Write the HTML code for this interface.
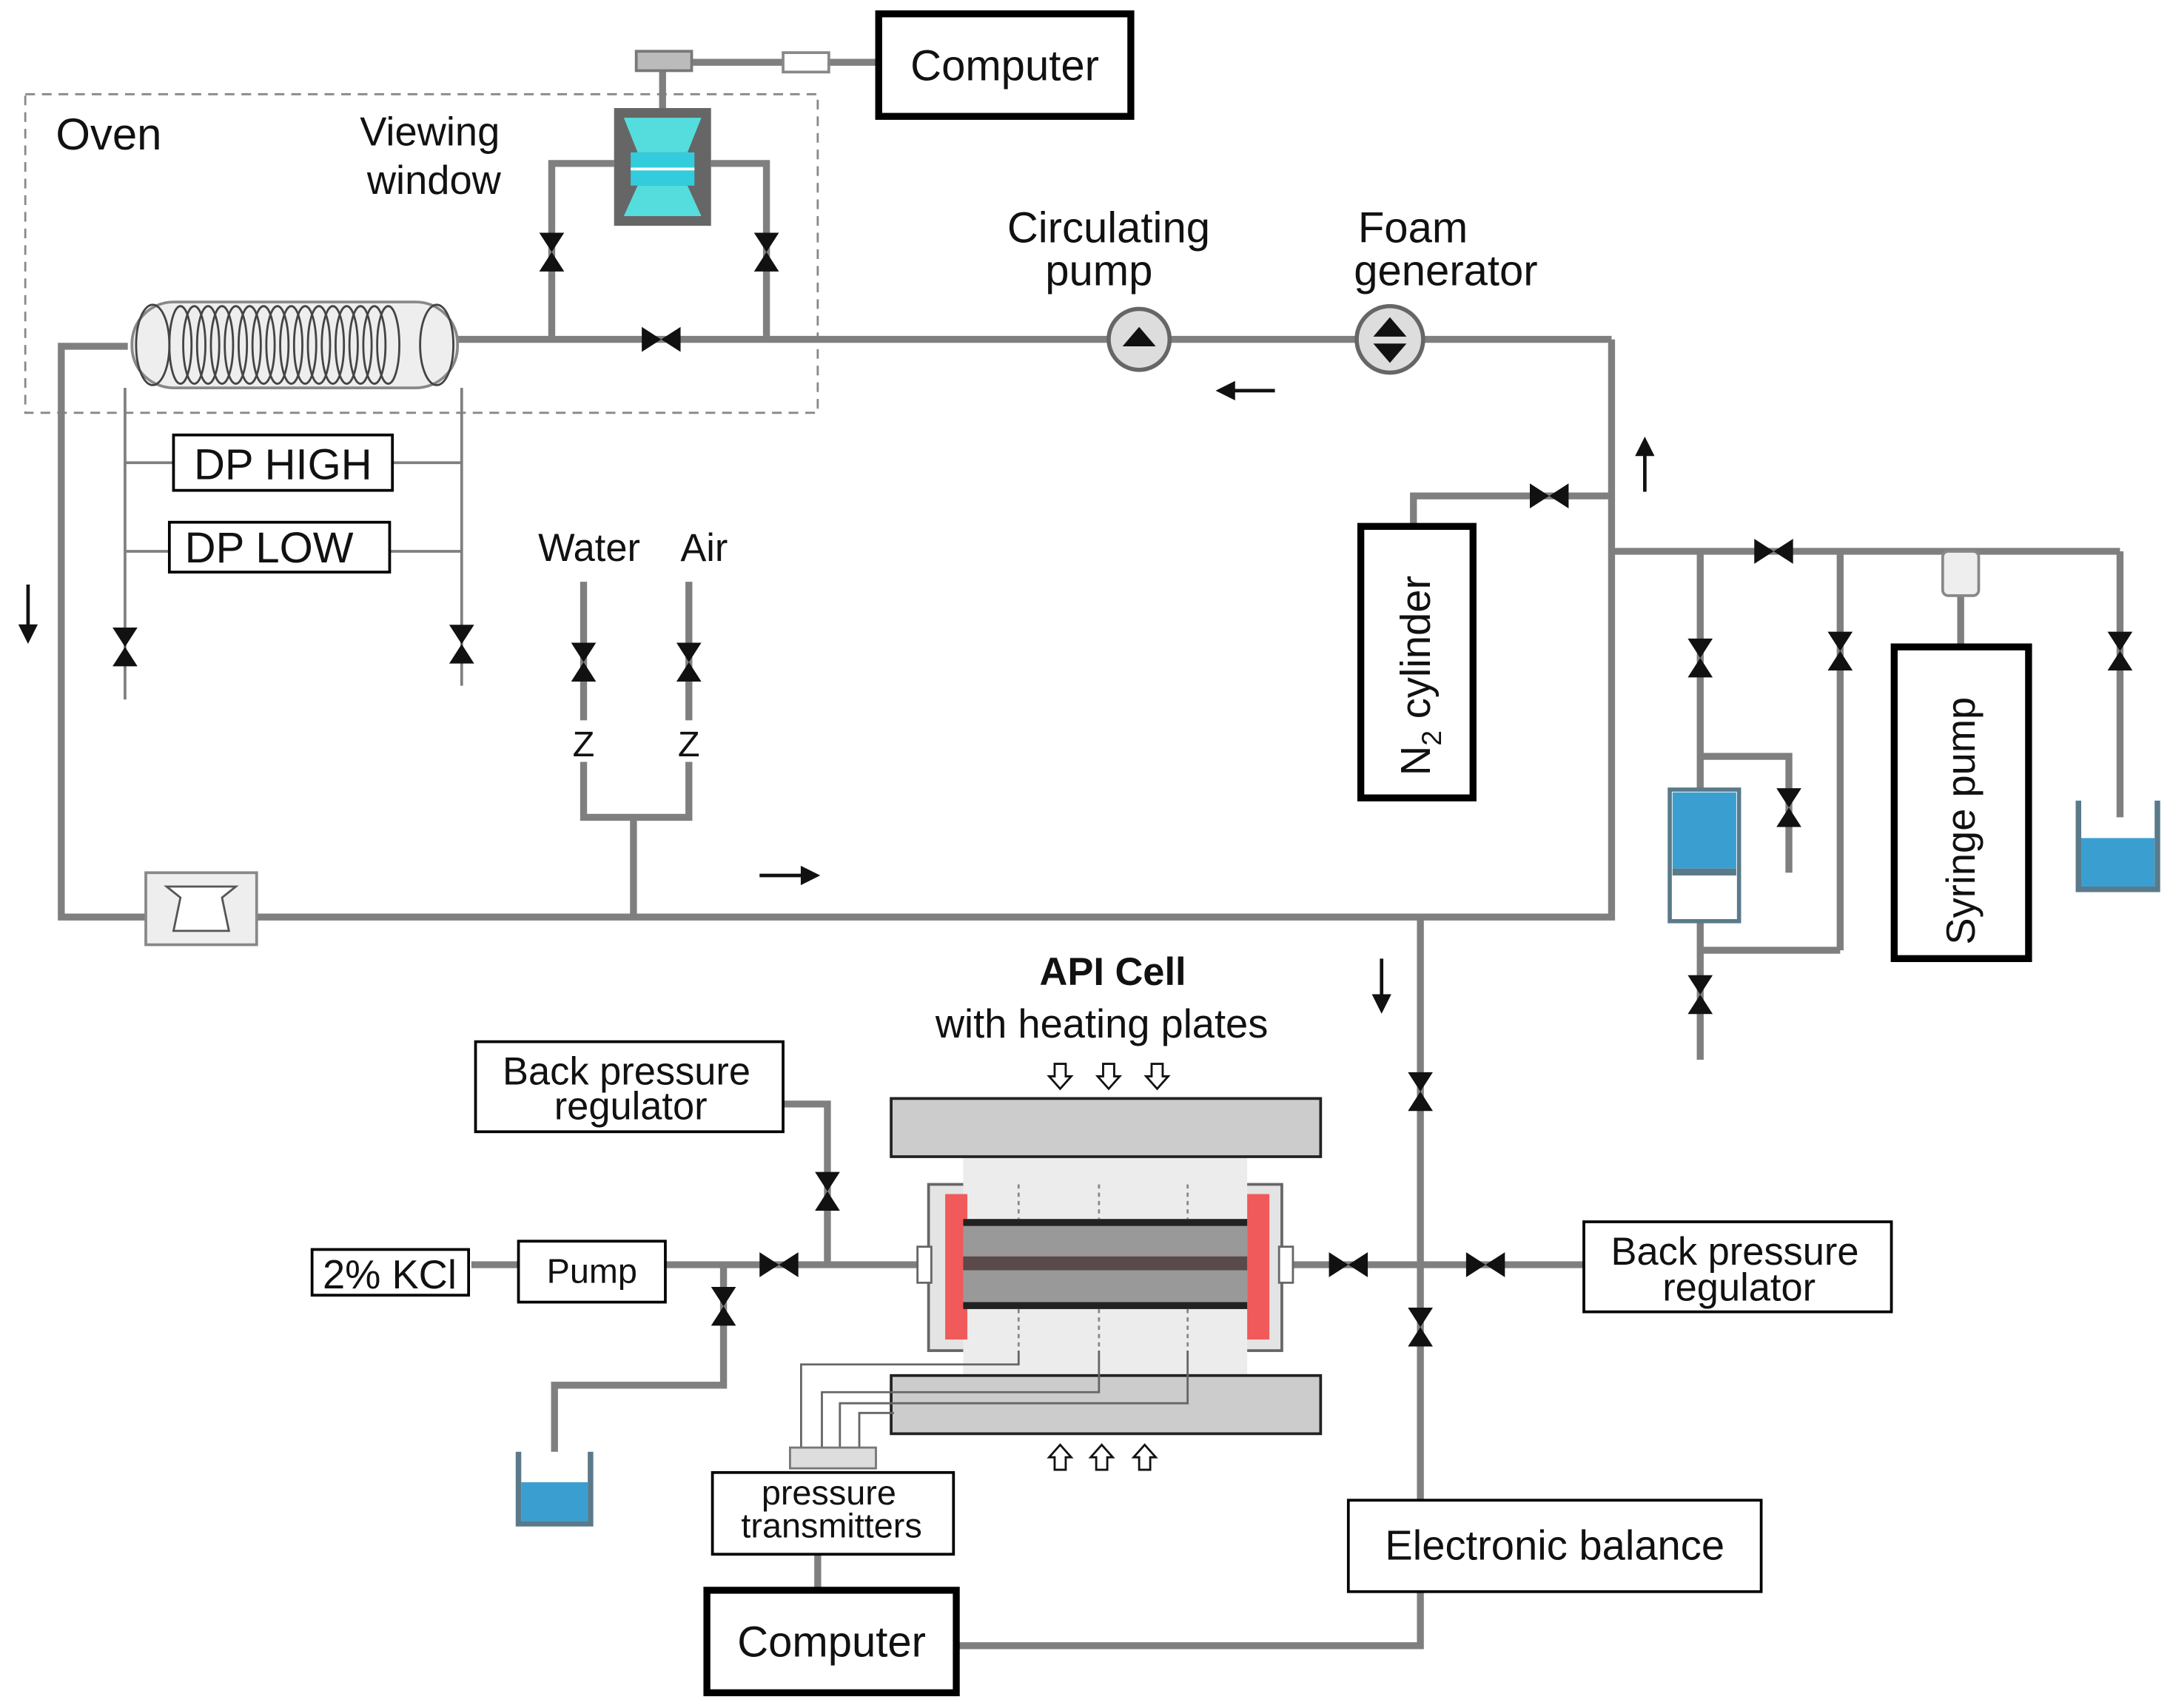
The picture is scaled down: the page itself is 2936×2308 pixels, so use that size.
<!DOCTYPE html>
<html><head><meta charset="utf-8"><style>
html,body{margin:0;padding:0;background:#fff;}
svg{display:block;}
text{font-family:"Liberation Sans","DejaVu Sans",sans-serif;fill:#111;}
</style></head><body>
<svg width="2936" height="2308" viewBox="0 0 1568 1233" xmlns="http://www.w3.org/2000/svg">
<defs>
<g id="vh"><polygon points="-14,-9 -14,9 0,0" fill="#111"/><polygon points="14,-9 14,9 0,0" fill="#111"/></g>
<g id="vv"><polygon points="-9,-14 9,-14 0,0" fill="#111"/><polygon points="-9,14 9,14 0,0" fill="#111"/></g>
<g id="hd"><polygon points="-4,-9 4,-9 4,0 8,0 0,9 -8,0 -4,0" fill="#fff" stroke="#111" stroke-width="1.5"/></g>
<g id="hu"><polygon points="-4,9 4,9 4,0 8,0 0,-9 -8,0 -4,0" fill="#fff" stroke="#111" stroke-width="1.5"/></g>
</defs>
<rect width="1568" height="1233" fill="#fff"/>
<rect x="18" y="68" width="572" height="230" fill="none" stroke="#888" stroke-width="1.5" stroke-dasharray="7,5"/>
<text x="40" y="108" font-size="32">Oven</text>
<text x="310" y="105" font-size="29" text-anchor="middle">Viewing</text>
<text x="313" y="140" font-size="29" text-anchor="middle">window</text>
<g stroke="#7f7f7f" stroke-width="5" fill="none">
<line x1="480" y1="45" x2="565" y2="45"/><line x1="598" y1="45" x2="634" y2="45"/>
<line x1="478" y1="50" x2="478" y2="78"/>
<polyline points="443,118 398,118 398,245"/><polyline points="513,118 553,118 553,245"/>
<line x1="330" y1="245" x2="1163" y2="245"/>
<polyline points="1163,245 1163,662 44,662 44,250 92,250"/>
<line x1="90" y1="280" x2="90" y2="505" stroke-width="2"/>
<line x1="333" y1="280" x2="333" y2="495" stroke-width="2"/>
<line x1="90" y1="334" x2="125" y2="334" stroke-width="2"/><line x1="283" y1="334" x2="333" y2="334" stroke-width="2"/>
<line x1="90" y1="398" x2="122" y2="398" stroke-width="2"/><line x1="281" y1="398" x2="333" y2="398" stroke-width="2"/>
<polyline points="421,420 421,590 497,590 497,420"/>
<line x1="457" y1="590" x2="457" y2="662"/>
<polyline points="1163,358 1020,358 1020,380"/>
<line x1="1163" y1="398" x2="1530" y2="398"/>
<line x1="1227" y1="398" x2="1227" y2="570"/>
<polyline points="1227,546 1291,546 1291,630"/>
<line x1="1328" y1="398" x2="1328" y2="686"/>
<line x1="1227" y1="686" x2="1328" y2="686"/>
<line x1="1227" y1="665" x2="1227" y2="765"/>
<line x1="1415" y1="430" x2="1415" y2="467"/>
<line x1="1530" y1="398" x2="1530" y2="590"/>
<polyline points="1025,662 1025,1188 690,1188"/>
<line x1="340" y1="913" x2="374" y2="913"/><line x1="480" y1="913" x2="665" y2="913"/>
<line x1="932" y1="913" x2="1143" y2="913"/>
<polyline points="565,797 597,797 597,913"/>
<polyline points="522,913 522,1000 400,1000 400,1048"/>
<line x1="590" y1="1122" x2="590" y2="1148"/>
</g>
<rect x="459" y="37" width="40" height="14" fill="#bbb" stroke="#777" stroke-width="2"/>
<rect x="565" y="38" width="33" height="14" fill="#fff" stroke="#888" stroke-width="2"/>
<rect x="634" y="10" width="182" height="74" fill="#fff" stroke="#000" stroke-width="5"/>
<text x="725" y="58" font-size="31" text-anchor="middle">Computer</text>
<rect x="443" y="78" width="70" height="85" fill="#666"/>
<polygon points="450,85 506,85 496,110 460,110" fill="#5dd"/>
<rect x="455" y="110" width="46" height="24" fill="#3cd"/>
<polygon points="460,134 496,134 506,156 450,156" fill="#5dd"/>
<line x1="455" y1="122" x2="501" y2="122" stroke="#fff" stroke-width="2"/>
<use href="#vv" x="398" y="182"/><use href="#vv" x="553" y="182"/>
<rect x="95" y="218" width="235" height="62" rx="30" fill="#eee" stroke="#888" stroke-width="2"/>
<g fill="none" stroke="#444" stroke-width="1.5">
<ellipse cx="110" cy="249" rx="12" ry="29"/><ellipse cx="315" cy="249" rx="12" ry="29"/>
<ellipse cx="130" cy="249" rx="8" ry="28"/><ellipse cx="140" cy="249" rx="8" ry="28"/><ellipse cx="150" cy="249" rx="8" ry="28"/><ellipse cx="160" cy="249" rx="8" ry="28"/><ellipse cx="170" cy="249" rx="8" ry="28"/><ellipse cx="180" cy="249" rx="8" ry="28"/><ellipse cx="190" cy="249" rx="8" ry="28"/><ellipse cx="200" cy="249" rx="8" ry="28"/><ellipse cx="210" cy="249" rx="8" ry="28"/><ellipse cx="220" cy="249" rx="8" ry="28"/><ellipse cx="230" cy="249" rx="8" ry="28"/><ellipse cx="240" cy="249" rx="8" ry="28"/><ellipse cx="250" cy="249" rx="8" ry="28"/><ellipse cx="260" cy="249" rx="8" ry="28"/><ellipse cx="270" cy="249" rx="8" ry="28"/><ellipse cx="280" cy="249" rx="8" ry="28"/>
</g>
<use href="#vh" x="477" y="245"/>
<circle cx="822" cy="245" r="22" fill="#ddd" stroke="#666" stroke-width="3"/>
<polygon points="810,250 834,250 822,236" fill="#111"/>
<circle cx="1003" cy="245" r="24" fill="#ddd" stroke="#666" stroke-width="3"/>
<polygon points="991,243 1015,243 1003,229" fill="#111"/><polygon points="991,248 1015,248 1003,262" fill="#111"/>
<text x="800" y="175" font-size="31" text-anchor="middle">Circulating</text>
<text x="793" y="206" font-size="31" text-anchor="middle">pump</text>
<text x="980" y="175" font-size="31">Foam</text>
<text x="977" y="206" font-size="31">generator</text>
<g stroke="#111" stroke-width="2.5" fill="#111">
<line x1="885" y1="282" x2="920" y2="282"/><polygon points="880,282 890,277 890,287"/>
<line x1="1187" y1="325" x2="1187" y2="355"/><polygon points="1187,318 1182,328 1192,328"/>
<line x1="20" y1="422" x2="20" y2="455"/><polygon points="20,462 15,452 25,452"/>
<line x1="548" y1="632" x2="582" y2="632"/><polygon points="589,632 579,627 579,637"/>
<line x1="997" y1="692" x2="997" y2="722"/><polygon points="997,729 992,719 1002,719"/>
</g>
<rect x="105" y="630" width="80" height="52" fill="#eee" stroke="#888" stroke-width="2"/>
<path d="M120,640 L170,640 L160,648 L165,672 L125,672 L130,648 Z" fill="#fff" stroke="#555" stroke-width="1.5"/>
<rect x="125" y="314" width="158" height="40" fill="#fff" stroke="#000" stroke-width="2"/>
<text x="204" y="346" font-size="31" text-anchor="middle">DP HIGH</text>
<rect x="122" y="377" width="159" height="36" fill="#fff" stroke="#000" stroke-width="2"/>
<text x="194" y="406" font-size="31" text-anchor="middle">DP LOW</text>
<use href="#vv" x="90" y="467"/><use href="#vv" x="333" y="465"/>
<text x="425" y="405" font-size="28" text-anchor="middle">Water</text>
<text x="508" y="405" font-size="28" text-anchor="middle">Air</text>
<use href="#vv" x="421" y="478"/><use href="#vv" x="497" y="478"/>
<rect x="412" y="520" width="18" height="30" fill="#fff"/><rect x="488" y="520" width="18" height="30" fill="#fff"/>
<text x="421" y="546" font-size="26" text-anchor="middle" fill="#444">Z</text>
<text x="497" y="546" font-size="26" text-anchor="middle" fill="#444">Z</text>
<use href="#vh" x="1118" y="358"/>
<rect x="982" y="380" width="81" height="196" fill="#fff" stroke="#000" stroke-width="5"/>
<text transform="translate(1032,560) rotate(-90)" font-size="30">N<tspan font-size="20" dy="8">2</tspan><tspan dy="-8"> cylinder</tspan></text>
<use href="#vh" x="1280" y="398"/>
<use href="#vv" x="1227" y="475"/><use href="#vv" x="1291" y="583"/><use href="#vv" x="1328" y="470"/><use href="#vv" x="1227" y="718"/><use href="#vv" x="1530" y="470"/>
<rect x="1205" y="570" width="50" height="95" fill="#fff" stroke="#5a7a8a" stroke-width="3"/>
<rect x="1207" y="572" width="46" height="55" fill="#3a9fd0"/>
<rect x="1207" y="627" width="46" height="5" fill="#5a7a8a"/>
<rect x="1402" y="398" width="26" height="32" rx="4" fill="#eee" stroke="#888" stroke-width="2"/>
<rect x="1367" y="467" width="97" height="225" fill="#fff" stroke="#000" stroke-width="5"/>
<text transform="translate(1425,682) rotate(-90)" font-size="29">Syringe pump</text>
<path d="M1500,578 L1500,642 L1557,642 L1557,578" fill="none" stroke="#5a7a8a" stroke-width="4"/>
<rect x="1502" y="605" width="53" height="35" fill="#3a9fd0"/>
<text x="803" y="711" font-size="28" font-weight="bold" text-anchor="middle">API Cell</text>
<text x="795" y="749" font-size="29" text-anchor="middle">with heating plates</text>
<use href="#hd" x="765" y="777"/><use href="#hd" x="800" y="777"/><use href="#hd" x="835" y="777"/>
<use href="#hu" x="765" y="1052"/><use href="#hu" x="795" y="1052"/><use href="#hu" x="826" y="1052"/>
<rect x="670" y="855" width="255" height="120" fill="#e4e4e4" stroke="#666" stroke-width="2"/>
<rect x="695" y="835" width="205" height="160" fill="#ececec"/>
<rect x="643" y="793" width="310" height="42" fill="#ccc" stroke="#222" stroke-width="2"/>
<rect x="643" y="993" width="310" height="42" fill="#ccc" stroke="#222" stroke-width="2"/>
<rect x="682" y="862" width="16" height="105" fill="#f05a5a"/>
<rect x="900" y="862" width="16" height="105" fill="#f05a5a"/>
<rect x="662" y="900" width="10" height="26" fill="#fff" stroke="#666" stroke-width="1.5"/>
<rect x="923" y="900" width="10" height="26" fill="#fff" stroke="#666" stroke-width="1.5"/>
<rect x="695" y="880" width="205" height="65" fill="#999"/>
<rect x="695" y="880" width="205" height="5" fill="#222"/>
<rect x="695" y="907" width="205" height="10" fill="#5a4a4a"/>
<rect x="695" y="940" width="205" height="5" fill="#222"/>
<g stroke="#888" stroke-width="1.5" stroke-dasharray="3,3">
<line x1="735" y1="855" x2="735" y2="880"/><line x1="793" y1="855" x2="793" y2="880"/><line x1="857" y1="855" x2="857" y2="880"/>
<line x1="735" y1="945" x2="735" y2="975"/><line x1="793" y1="945" x2="793" y2="975"/><line x1="857" y1="945" x2="857" y2="975"/>
</g>
<g fill="none" stroke="#666" stroke-width="1.5">
<polyline points="578,1045 578,985 735,985 735,975"/>
<polyline points="593,1045 593,1005 793,1005 793,975"/>
<polyline points="606,1045 606,1013 857,1013 857,975"/>
<polyline points="620,1045 620,1020 645,1020"/>
</g>
<use href="#vh" x="562" y="913"/><use href="#vh" x="973" y="913"/><use href="#vh" x="1072" y="913"/>
<use href="#vv" x="597" y="860"/><use href="#vv" x="522" y="943"/>
<use href="#vv" x="1025" y="788"/><use href="#vv" x="1025" y="958"/>
<rect x="343" y="752" width="222" height="65" fill="#fff" stroke="#000" stroke-width="2"/>
<text x="452" y="783" font-size="28" text-anchor="middle">Back pressure</text>
<text x="455" y="808" font-size="28" text-anchor="middle">regulator</text>
<rect x="1143" y="882" width="222" height="65" fill="#fff" stroke="#000" stroke-width="2"/>
<text x="1252" y="913" font-size="28" text-anchor="middle">Back pressure</text>
<text x="1255" y="939" font-size="28" text-anchor="middle">regulator</text>
<rect x="225" y="902" width="113" height="33" fill="#fff" stroke="#000" stroke-width="2"/>
<text x="281" y="930" font-size="29" text-anchor="middle">2% KCl</text>
<rect x="374" y="896" width="106" height="44" fill="#fff" stroke="#000" stroke-width="2"/>
<text x="427" y="926" font-size="25" text-anchor="middle">Pump</text>
<path d="M374,1048 L374,1100 L426,1100 L426,1048" fill="none" stroke="#5a7a8a" stroke-width="4"/>
<rect x="376" y="1070" width="48" height="28" fill="#3a9fd0"/>
<rect x="570" y="1045" width="62" height="15" fill="#ddd" stroke="#777" stroke-width="1.5"/>
<rect x="514" y="1063" width="174" height="59" fill="#fff" stroke="#000" stroke-width="2"/>
<text x="598" y="1086" font-size="25" text-anchor="middle">pressure</text>
<text x="600" y="1110" font-size="25" text-anchor="middle">transmitters</text>
<rect x="510" y="1148" width="180" height="74" fill="#fff" stroke="#000" stroke-width="5"/>
<text x="600" y="1196" font-size="31" text-anchor="middle">Computer</text>
<rect x="973" y="1083" width="298" height="66" fill="#fff" stroke="#000" stroke-width="2"/>
<text x="1122" y="1126" font-size="30" text-anchor="middle">Electronic balance</text>
</svg>
</body></html>
